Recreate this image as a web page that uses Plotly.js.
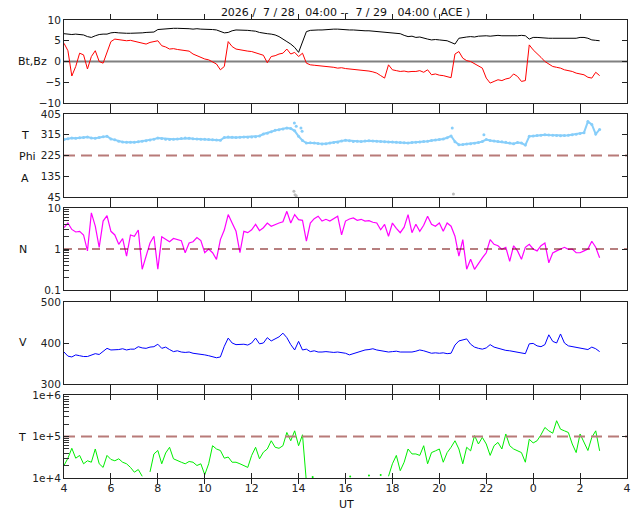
<!DOCTYPE html>
<html><head><meta charset="utf-8">
<script src="https://cdn.plot.ly/plotly-3.0.1.min.js"></script>
<style>html,body{margin:0;padding:0;background:#fff}#g{width:640px;height:512px}</style>
</head><body><div id="g"></div><script>
// sample grid: 10-minute samples starting 04:00 UT (hours since 00:00 of 7/28)
const startHour = 4;
const stepHours = 1 / 6;
const xTickVals = [4, 6, 8, 10, 12, 14, 16, 18, 20, 22, 24, 26, 28];
const xTickText = ['4', '6', '8', '10', '12', '14', '16', '18', '20', '22', '0', '2', '4'];
const nMinorTicks = [0.2,0.3,0.4,0.5,0.6,0.7,0.8,0.9, 2,3,4,5,6,7,8,9];
const tMinorTicks = [2e4,3e4,4e4,5e4,6e4,7e4,8e4,9e4, 2e5,3e5,4e5,5e5,6e5,7e5,8e5,9e5];

const bt = [
 6.7,6.6,6.5,6.6,6.5,6.4, 6.0,5.8,6.2,6.5,6.6,6.6, 6.9,7.0,6.9,6.8,6.8,6.8, 6.8,6.9,6.9,7.0,7.0,7.1,
 7.7,7.8,7.9,7.9,8.0,8.0, 8.0,7.9,7.9,7.8,7.9,7.8, 7.8,7.8,7.7,7.6,7.2,6.9, 7.0,7.4,7.6,7.6,7.5,7.5,
 7.4,7.3,7.0,6.8,6.7,6.6, 6.4,6.0,5.5,4.8,4.2,3.4, 2.2,4.5,7.2,7.5,7.6,7.6, 7.6,7.7,7.7,7.8,7.8,7.7,
 7.7,7.6,7.6,7.5,7.5,7.4, 7.4,7.3,7.2,7.2,7.0,7.0, 6.9,6.8,6.7,6.3,6.0,6.1, 5.8,5.9,5.6,5.4,5.2,5.3,
 5.2,5.1,5.0,4.6,4.2,5.6, 5.8,5.9,6.0,5.9,6.1,6.2, 6.2,6.1,6.2,6.3,6.2,6.2, 6.2,6.1,6.2,6.3,6.2,5.4,
 5.8,5.8,5.7,5.7,5.6,5.6, 5.6,5.7,5.6,5.6,5.7,5.6, 5.8,5.8,5.6,5.2,5.1,5.0
];
const bz = [
 4.4,2.6,-3.5,-1.2,2.0,1.6, -1.8,1.2,2.6,0.0,-0.4,2.0, 4.8,5.4,5.3,5.2,5.0,5.1, 4.9,4.6,4.4,4.2,4.6,4.8,
 5.0,3.8,3.5,3.0,3.1,2.9, 2.8,2.7,2.5,1.8,1.4,1.0, 0.6,0.4,-0.2,-0.6,-2.0,-1.2, 4.8,3.6,3.0,2.8,2.6,2.5,
 2.4,2.1,1.9,1.5,-0.3,1.2, 1.4,1.8,2.0,3.0,1.8,2.2, 1.2,2.0,-0.4,-0.8,-0.9,-1.0, -1.0,-1.1,-1.2,-1.4,-1.6,-1.5,
 -1.7,-1.8,-1.8,-2.0,-2.1,-2.2, -2.3,-2.5,-2.8,-3.4,-4.0,-0.8, -2.0,-2.2,-2.4,-2.3,-2.5,-2.4, -2.4,-2.2,-2.6,-2.0,-3.2,-3.0,
 -3.3,-3.4,-3.6,-3.9,1.8,2.4, 0.8,0.2,0.0,-0.6,-1.2,-1.6, -4.0,-5.2,-4.8,-4.4,-4.6,-4.2, -4.0,-3.0,-3.6,-4.8,-4.6,4.0,
 2.8,2.0,1.0,0.0,-0.5,-1.2, -1.4,-1.6,-2.0,-2.2,-2.4,-2.8, -3.0,-3.2,-3.8,-4.0,-2.6,-3.4
];
const phi = [
 294,298,301,300,302,303, 305,301,300,303,306,308, 297,293,287,284,283,282, 282,285,287,289,292,296,
 301,299,296,294,295,297, 299,301,300,298,297,296, 295,294,293,292,291,303, 305,304,303,304,305,304,
 305,306,310,318,322,328, 334,337,340,344,342,332, 308,290,279,280,279,277, 275,276,279,281,283,288,
 291,289,286,287,286,288, 289,288,287,286,285,284, 284,283,281,280,279,281, 282,284,286,287,290,292,
 294,297,302,310,285,272, 273,275,276,278,281,286, 294,290,288,286,285,283, 279,276,281,279,270,308,
 310,312,313,315,314,313, 312,311,312,313,315,317, 320,324,372,360,318,338
];
const phiScatterT = [13.82, 13.9, 14.1, 14.15, 20.55, 21.9];
const phiScatterV = [366, 352, 344, 330, 344, 315];
const phiLowT = [13.8, 13.85, 13.9, 20.6];
const phiLowV = [70, 55, 50, 58];
const dens = [
 3.3,4.3,3.0,2.6,2.7,2.2, 0.9,7.6,3.6,1.1,4.8,6.5, 2.7,2.2,1.3,1.8,0.67,2.2, 2.05,2.9,0.32,0.7,1.4,2.05,
 0.32,2.0,1.7,1.5,1.8,1.7, 1.6,0.81,1.4,1.5,1.9,1.6, 0.81,1.0,0.81,0.56,1.7,2.9, 6.9,4.3,2.7,0.81,2.7,2.5,
 2.95,4.0,2.8,3.3,4.3,3.6, 4.0,4.3,4.6,8.3,4.3,6.9, 5.2,5.0,1.55,4.3,5.5,6.3, 4.8,5.3,4.8,5.6,6.3,2.2,
 4.8,5.4,5.7,5.0,5.3,4.8, 4.9,4.5,4.3,2.95,4.0,2.05, 4.3,3.2,2.5,3.4,6.9,2.5, 4.0,2.7,3.8,6.3,4.0,3.6,
 4.3,2.7,4.3,3.6,2.05,0.67, 1.7,0.32,0.56,0.32,0.46,0.61, 0.81,1.7,1.3,1.2,0.98,1.1, 0.5,1.2,0.9,0.56,1.1,1.3,
 1.0,0.9,1.2,1.4,0.46,0.8, 0.9,1.0,1.1,0.98,1.0,0.81, 0.81,0.9,1.0,1.55,1.1,0.61
];
const speed = [
 378,368,366,371,369,367, 367,370,374,372,379,387, 383,383,384,386,383,385, 385,391,388,387,390,391,
 397,387,390,384,379,381, 378,377,378,375,374,372, 371,369,367,364,366,392, 412,400,396,397,397,395,
 400,412,398,400,413,405, 410,415,424,413,396,383, 404,383,385,379,381,378, 378,379,378,377,378,376,
 375,371,374,377,380,383, 384,386,383,381,379,378, 379,380,378,378,377,378, 380,383,381,378,375,376,
 375,376,374,375,395,405, 408,410,397,390,387,385, 388,396,390,387,384,382, 381,379,377,375,374,398,
 399,393,391,396,420,404, 400,422,400,393,391,389, 387,386,384,390,386,379
];
const temp = [
 20000,30000,52000,30000,35000,22000, 26000,24000,50000,22000,18000,35000, 28000,26000,29000,24000,22000,18000, 13800,16000,11000,null,14000,38000,
 46000,22000,40000,55000,29000,26000, 24000,22000,25000,24000,20000,22000, 12000,22000,60000,50000,46000,30000, 32000,24000,24000,22000,20000,18000,
 35000,55000,29000,42000,50000,79000, 55000,52000,60000,125000,79000,137000, 60000,110000,8000,null,null,null, null,null,null,null,null,null,
 null,null,null,null,null,null, null,null,null,null,null,11000, 22000,35000,15000,24000,50000,38000, 38000,35000,60000,22000,41000,45000,
 50000,24000,41000,55000,79000,50000, 22000,55000,45000,105000,66000,95000, 66000,35000,60000,72000,50000,115000, 60000,50000,45000,41000,24000,86000,
 70000,79000,110000,165000,137000,120000, 240000,150000,137000,125000,66000,41000, 115000,70000,46000,95000,137000,45000
];
const tempDotsT = [14.6, 16.2, 17.0, 17.5];
const tempDotsV = [10500, 10800, 11500, 11800];

const bzRef = 0, phiRef = 225, nRef = 1, tRef = 1e5;
const t = bt.map((_, i) => startHour + i * stepHours);
const full = [4, 28];

const F = 'DejaVu Sans, Verdana, sans-serif';
const traces = [
  {x: full, y: [bzRef, bzRef], yaxis: 'y', mode: 'lines', line: {color: '#808080', width: 2}},
  {x: t, y: bt, yaxis: 'y', mode: 'lines', line: {color: '#000', width: 1}},
  {x: t, y: bz, yaxis: 'y', mode: 'lines', line: {color: '#ff0000', width: 1}},
  {x: full, y: [phiRef, phiRef], yaxis: 'y2', mode: 'lines', line: {color: '#b87a78', width: 2, dash: '11px,6px'}},
  {x: t, y: phi, yaxis: 'y2', mode: 'lines+markers', line: {color: '#87cefa', width: 2}, marker: {color: '#87cefa', size: 3}},
  {x: phiScatterT, y: phiScatterV, yaxis: 'y2', mode: 'markers', marker: {color: '#87cefa', size: 3}},
  {x: phiLowT, y: phiLowV, yaxis: 'y2', mode: 'markers', marker: {color: '#bbbbbb', size: 3}},
  {x: full, y: [nRef, nRef], yaxis: 'y6', mode: 'lines', line: {color: '#700000', width: 1.2, dash: '8px,6px'}},
  {x: t, y: dens, yaxis: 'y3', mode: 'lines', line: {color: '#ff00ff', width: 1.2}},
  {x: t, y: speed, yaxis: 'y4', mode: 'lines', line: {color: '#0000ff', width: 1}},
  {x: full, y: [tRef, tRef], yaxis: 'y7', mode: 'lines', line: {color: '#b87a78', width: 2, dash: '11px,6px'}},
  {x: t, y: temp, yaxis: 'y5', mode: 'lines', line: {color: '#00ee00', width: 1}},
  {x: tempDotsT, y: tempDotsV, yaxis: 'y5', mode: 'markers', marker: {color: '#00ee00', size: 2}}
];

const yBase = {anchor: 'x', showline: true, linecolor: '#222', linewidth: 1, mirror: 'allticks',
  ticks: 'inside', ticklen: 5, tickcolor: '#222', tickwidth: 1, showgrid: false, zeroline: false,
  tickfont: {family: F, size: 10.5, color: '#222'}, fixedrange: true};
const minorAxis = {anchor: 'x', side: 'left', showline: false, ticks: 'inside', ticklen: 5,
  tickcolor: '#333', tickwidth: 1, showgrid: false, zeroline: false, showticklabels: false, fixedrange: true};
const plotH = 458;
const dom = (a, b) => [(478 - b) / plotH, (478 - a) / plotH];

const layout = {
  width: 640, height: 512, showlegend: false,
  paper_bgcolor: '#fff', plot_bgcolor: '#fff',
  margin: {l: 64, r: 13, t: 20, b: 34},
  font: {family: F, size: 11, color: '#111'},
  title: {text: '2026 /\u00a0 7 / 28 \u00a0 04:00 --\u00a0 7 / 29 \u00a0 04:00 ( ACE )',
    x: 0.54, xref: 'container', xanchor: 'center', y: 1 - 12 / 512, yref: 'container', yanchor: 'middle',
    font: {family: F, size: 11, color: '#111'}},
  xaxis: {anchor: 'y5', range: [4, 28], tickvals: xTickVals, ticktext: xTickText,
    showline: true, linecolor: '#222', mirror: 'allticks', ticks: 'inside', ticklen: 5, tickcolor: '#222', tickwidth: 1,
    showgrid: false, zeroline: false, tickfont: {family: F, size: 11, color: '#222'}, fixedrange: true},
  yaxis: Object.assign({}, yBase, {domain: dom(20, 103), range: [-10, 10], tickvals: [-10, -5, 0, 5, 10]}),
  yaxis2: Object.assign({}, yBase, {domain: dom(114, 197), range: [45, 405], tickvals: [45, 135, 225, 315, 405]}),
  yaxis3: Object.assign({}, yBase, {domain: dom(208, 290), type: 'log', range: [-1, 1],
    tickvals: [0.1, 1, 10], ticktext: ['0.1', '1', '10']}),
  yaxis4: Object.assign({}, yBase, {domain: dom(302, 384), range: [300, 500], tickvals: [300, 400, 500]}),
  yaxis5: Object.assign({}, yBase, {domain: dom(395, 478), type: 'log', range: [4, 6],
    tickvals: [1e4, 1e5, 1e6], ticktext: ['1e+4', '1e+5', '1e+6']}),
  yaxis6: Object.assign({}, minorAxis, {overlaying: 'y3', type: 'log', range: [-1, 1], tickvals: nMinorTicks}),
  yaxis7: Object.assign({}, minorAxis, {overlaying: 'y5', type: 'log', range: [4, 6], tickvals: tMinorTicks}),
  annotations: [
    ['Bt,Bz', 32, 62], ['T', 25, 135], ['Phi', 27, 156], ['A', 25, 178],
    ['N', 23, 249], ['V', 23, 343], ['T', 22, 437], ['UT', 346, 504]
  ].map(([txt, px, py]) => ({text: txt, xref: 'paper', yref: 'paper',
    x: (px - 64) / 563, y: (478 - py) / plotH, xanchor: 'center', yanchor: 'middle', showarrow: false,
    font: {family: F, size: 11, color: '#111'}}))
};
Plotly.newPlot('g', traces, layout, {staticPlot: true, displayModeBar: false});
</script></body></html>
